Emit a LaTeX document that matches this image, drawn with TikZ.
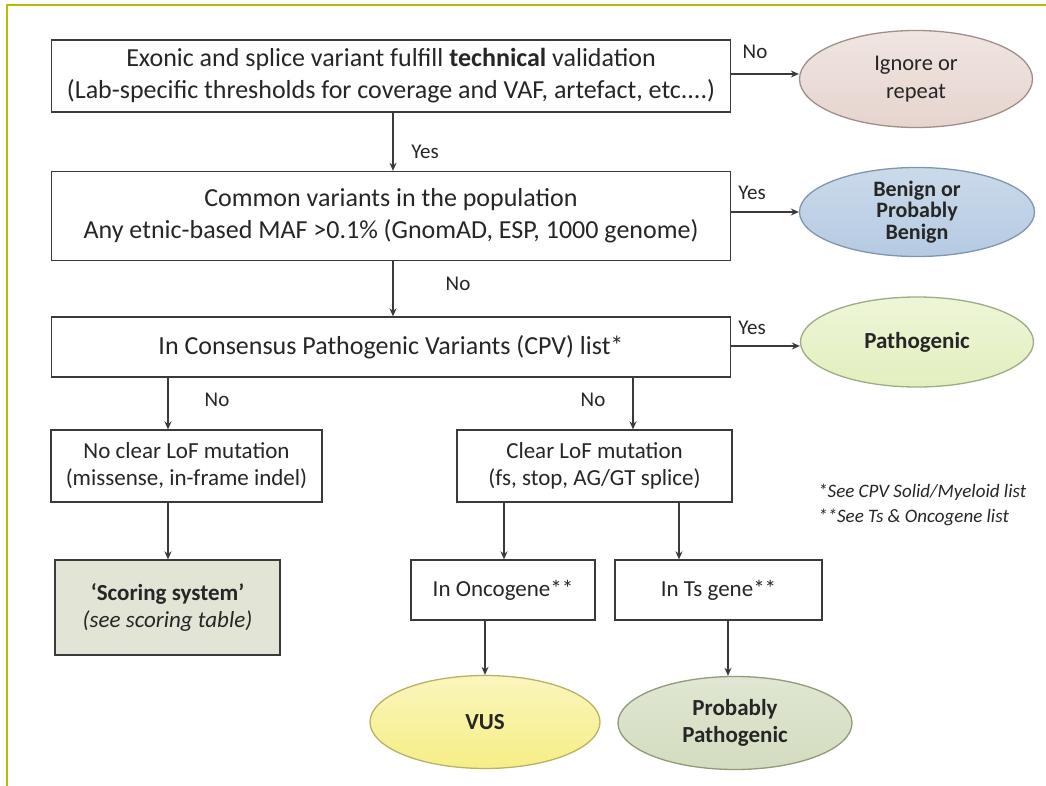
\documentclass[tikz,border=0pt]{standalone}
\usepackage{fontspec}
\setmainfont{Carlito}
\usetikzlibrary{shapes.geometric,arrows.meta}
\definecolor{frame}{HTML}{B5BD00}
\definecolor{txt}{HTML}{262626}
\definecolor{ln}{HTML}{3A3A3A}
\definecolor{ignF}{HTML}{E6D4CE}
\definecolor{ignB}{HTML}{A08E88}
\definecolor{benF}{HTML}{B5CAE2}
\definecolor{benB}{HTML}{8096B0}
\definecolor{patF}{HTML}{E2EFBE}
\definecolor{patB}{HTML}{9CAC84}
\definecolor{vusF}{HTML}{F6EE86}
\definecolor{vusB}{HTML}{B8B266}
\definecolor{ppF}{HTML}{D3DCBF}
\definecolor{ppB}{HTML}{8F9B7A}
\definecolor{scF}{HTML}{E2E5D6}
\tikzset{
  box/.style={draw=ln, line width=1.3pt, rectangle, inner sep=0pt, align=center, text=txt,
    font=\fontsize{26}{32}\selectfont},
  sbox/.style={box, font=\fontsize{23}{27}\selectfont},
  oval/.style={ellipse, line width=1.3pt, inner sep=0pt, align=center, text=txt,
    font=\fontsize{22.5}{28}\selectfont},
  arr/.style={draw=ln, line width=1.3pt, -{Stealth[length=8pt,width=7pt]}},
  lab/.style={text=txt, font=\fontsize{21}{24}\selectfont, inner sep=0pt},
  foot/.style={text=txt, font=\fontsize{19}{25}\selectfont\itshape, inner sep=0pt, align=left, anchor=west}
}
\begin{document}
\begin{tikzpicture}[x=1pt,y=-1pt]
\useasboundingbox (0,0) rectangle (1046,786);
\fill[white] (0,0) rectangle (1046,786);
\draw[frame, line width=2.5pt] (7,786) -- (7,5) -- (1046,5);

% main boxes
\node[box, minimum width=679, minimum height=72] (b1) at (391,76)
  {Exonic and splice variant fulfill \textbf{technical} validation\\(Lab-specific thresholds for coverage and VAF, artefact, etc....)};
\node[box, minimum width=679, minimum height=89] (b2) at (391,216)
  {Common variants in the population\\Any etnic-based MAF >0.1\% (GnomAD, ESP, 1000 genome)};
\node[box, minimum width=679, minimum height=60] (b3) at (391,347)
  {In Consensus Pathogenic Variants (CPV) list*};
\node[sbox, minimum width=271, minimum height=72] (b4) at (186.5,466)
  {No clear LoF mutation\\(missense, in-frame indel)};
\node[sbox, fill=scF, minimum width=225, minimum height=95] (b5) at (167.5,607.5)
  {\textbf{‘Scoring system’}\\\textit{(see scoring table)}};
\node[sbox, minimum width=275, minimum height=72] (b6) at (594.5,466)
  {Clear LoF mutation\\(fs, stop, AG/GT splice)};
\node[sbox, minimum width=184, minimum height=60] (b7) at (503,590) {In Oncogene**};
\node[sbox, minimum width=207, minimum height=60] (b8) at (718.5,590) {In Ts gene**};

% ellipses
\node[oval, draw=ignB, top color=ignF!60!white, bottom color=ignF, minimum width=233, minimum height=97] (e1) at (916,79)
  {Ignore or\\repeat};
\node[oval, draw=benB, top color=benF!70!white, bottom color=benF, minimum width=235, minimum height=89,
  font=\fontsize{22}{21.5}\selectfont\bfseries] (e2) at (917,212)
  {Benign or\\Probably\\Benign};
\node[oval, draw=patB, top color=patF!60!white, bottom color=patF, minimum width=233, minimum height=90,
  font=\fontsize{23}{27}\selectfont\bfseries] (e3) at (917,342) {Pathogenic};
\node[oval, draw=vusB, top color=vusF!55!white, bottom color=vusF, minimum width=230, minimum height=93,
  font=\fontsize{23}{27}\selectfont\bfseries] (e4) at (485,722) {VUS};
\node[oval, draw=ppB, top color=ppF!70!white, bottom color=ppF, minimum width=234, minimum height=93,
  font=\fontsize{23}{27}\selectfont\bfseries] (e5) at (735,723) {Probably\\Pathogenic};

% helper coordinates for connector columns
\coordinate (c1) at (393,0);
\coordinate (c2) at (168,0);
\coordinate (c3) at (633,0);
\coordinate (c4) at (504,0);
\coordinate (c5) at (679,0);
\coordinate (c6) at (485,0);
\coordinate (c7) at (728,0);
\coordinate (r1) at (0,74);
\coordinate (r2) at (0,212);
\coordinate (r3) at (0,346);

% connectors
\draw[arr] (b1.east |- r1) -- (e1.west |- r1);
\draw[arr] (b2.east |- r2) -- (e2.west |- r2);
\draw[arr] (b3.east |- r3) -- (e3.west |- r3);
\draw[arr] (b1.south -| c1) -- (b2.north -| c1);
\draw[arr] (b2.south -| c1) -- (b3.north -| c1);
\draw[arr] (b3.south -| c2) -- (b4.north -| c2);
\draw[arr] (b3.south -| c3) -- (b6.north -| c3);
\draw[arr] (b4.south -| c2) -- (b5.north -| c2);
\draw[arr] (b6.south -| c4) -- (b7.north -| c4);
\draw[arr] (b6.south -| c5) -- (b8.north -| c5);
\draw[arr] (b7.south -| c6) -- (e4.north -| c6);
\draw[arr] (b8.south -| c7) -- (e5.north -| c7);

% labels
\node[lab] (l1) at (755,52) {No};
\node[lab] (l2) at (425,152) {Yes};
\node[lab] (l3) at (752,193) {Yes};
\node[lab] (l4) at (458,284) {No};
\node[lab] (l5) at (752,328) {Yes};
\node[lab] (l6) at (217,400) {No};
\node[lab] (l7) at (593,400) {No};

\node[foot] (fn) at (818,505) {*See CPV Solid/Myeloid list\\**See Ts \& Oncogene list};
\end{tikzpicture}
\end{document}
